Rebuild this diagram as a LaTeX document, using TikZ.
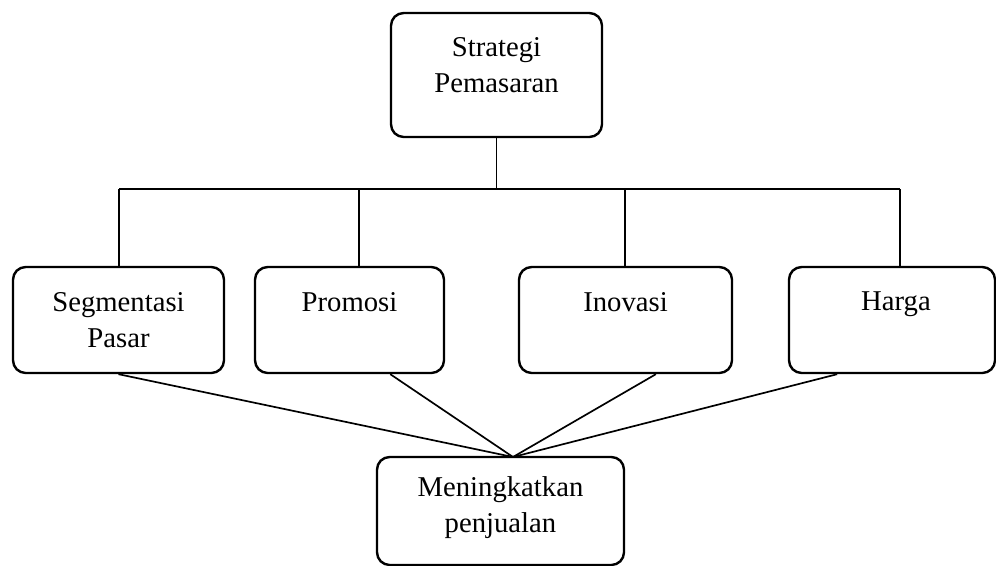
\documentclass[tikz,border=0pt]{standalone}
\usepackage{fontspec}
\setmainfont{Liberation Serif}
\begin{document}
\begin{tikzpicture}[x = 0.025cm, y = -0.025cm, line width = 1.2pt,
        kotak/.style = {draw, line width = 1.7pt, rounded corners = 9pt, inner sep = 0pt},
        teks/.style = {align = center, font = \fontsize{20.4}{25.5}\selectfont}]
        \useasboundingbox (0, 0) rectangle (996, 566);
        \node [kotak, minimum width = 211*0.025cm, minimum height = 124*0.025cm] (strategi) at (496.5, 75) {};
        \node [kotak, minimum width = 211*0.025cm, minimum height = 106*0.025cm] (segmentasi) at (118.5, 320) {};
        \node [kotak, minimum width = 189*0.025cm, minimum height = 106*0.025cm] (promosi) at (349.5, 320) {};
        \node [kotak, minimum width = 213*0.025cm, minimum height = 106*0.025cm] (inovasi) at (625.5, 320) {};
        \node [kotak, minimum width = 206*0.025cm, minimum height = 106*0.025cm] (harga) at (892, 320) {};
        \node [kotak, minimum width = 247*0.025cm, minimum height = 108*0.025cm] (penjualan) at (500.5, 511) {};
        \node [teks] (strategi-t) at (496.5, 65) {Strategi\\Pemasaran};
        \node [teks] (segmentasi-t) at (118.5, 320) {Segmentasi\\Pasar};
        \node [teks] (promosi-t) at (349.5, 302) {Promosi};
        \node [teks] (inovasi-t) at (625.5, 302) {Inovasi};
        \node [teks] (harga-t) at (896, 304) {Harga};
        \node [teks] (penjualan-t) at (500.5, 508) {Meningkatkan\\penjualan};
        \coordinate (cabang) at (496.5, 189);
        \coordinate (cabang1) at (119, 189);
        \coordinate (cabang2) at (359, 189);
        \coordinate (cabang3) at (625, 189);
        \coordinate (cabang4) at (900, 189);
        \coordinate (temu) at (513, 457);
        \draw (strategi) -- (cabang);
        \draw (cabang1) -- (cabang4);
        \draw (cabang1) -- (cabang1 |- segmentasi.north);
        \draw (cabang2) -- (cabang2 |- promosi.north);
        \draw (cabang3) -- (cabang3 |- inovasi.north);
        \draw (cabang4) -- (cabang4 |- harga.north);
        \draw (segmentasi.south) -- (temu);
        \draw ([xshift = 29pt] promosi.south) -- (temu);
        \draw ([xshift = 21.6pt] inovasi.south) -- (temu);
        \draw ([xshift = -39pt] harga.south) -- (temu);
\end{tikzpicture}
\end{document}
